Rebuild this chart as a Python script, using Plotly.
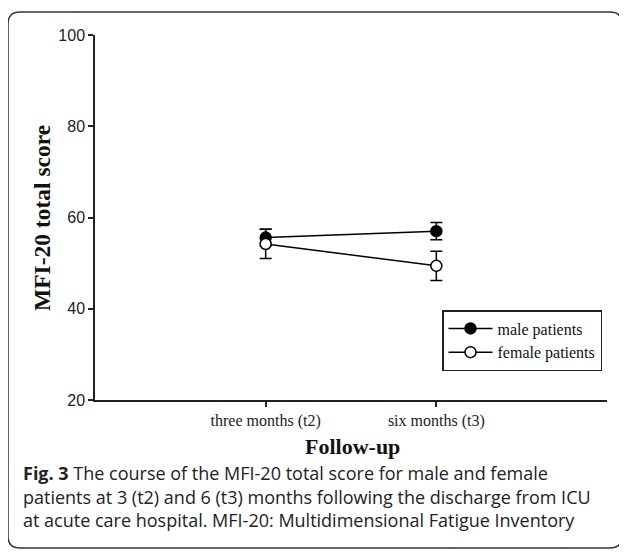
import plotly.graph_objects as go

categories = ["three months (t2)", "six months (t3)"]
cat_pos = [1, 2]
male_mean = [55.6, 57.0]
male_err = [1.8, 1.9]
female_mean = [54.2, 49.4]
female_err = [3.2, 3.2]
y_ticks = [20, 40, 60, 80, 100]
caption_lines = [
    "<b>Fig. 3</b> The course of the MFI-20 total score for male and female",
    "patients at 3 (t2) and 6 (t3) months following the discharge from ICU",
    "at acute care hospital. MFI-20: Multidimensional Fatigue Inventory",
]

# page has an 8px body margin, so the figure is drawn 8px smaller
OFF = 8
W, H = 627 - OFF, 552 - OFF
L, T = 95 - OFF, 35 - OFF
R, B = 20, 152
pw, ph = W - L - R, H - T - B

def px2x(p):
    return (p - OFF - L) / pw

def py2y(p):
    return (H - B - (p - OFF)) / ph

fig = go.Figure()
fig.add_trace(go.Scatter(
    x=cat_pos, y=male_mean, name="male patients", mode="lines+markers",
    line=dict(color="black", width=1.5),
    marker=dict(color="black", size=11, line=dict(color="black", width=1.5)),
    error_y=dict(type="data", array=male_err, color="black", thickness=1.5, width=6),
))
fig.add_trace(go.Scatter(
    x=cat_pos, y=female_mean, name="female patients", mode="lines+markers",
    line=dict(color="black", width=1.5),
    marker=dict(color="white", size=11, line=dict(color="black", width=1.5)),
    error_y=dict(type="data", array=female_err, color="black", thickness=1.5, width=6),
))

serif = "Liberation Serif"
fig.update_xaxes(range=[0, 3], tickvals=cat_pos, ticktext=categories,
                 showline=True, linecolor="#222", linewidth=1.5,
                 ticks="outside", ticklen=5, tickwidth=1.5, tickcolor="#222",
                 showgrid=False, zeroline=False,
                 tickfont=dict(family=serif, size=16, color="#222"))
fig.update_yaxes(range=[20, 100], tickvals=y_ticks,
                 showline=True, linecolor="#222", linewidth=1.5,
                 ticks="outside", ticklen=5, tickwidth=1.5, tickcolor="#222",
                 showgrid=False, zeroline=False,
                 tickfont=dict(family="Liberation Sans", size=16, color="#222"))

annotations = [
    dict(text="<b>MFI-20 total score</b>", x=px2x(42), y=py2y(218), xref="paper", yref="paper",
         textangle=-90, showarrow=False, xanchor="center", yanchor="middle",
         font=dict(family=serif, size=23.5, color="#111")),
    dict(text="<b>Follow-up</b>", x=px2x(352), y=py2y(446), xref="paper", yref="paper",
         showarrow=False, xanchor="center", yanchor="middle",
         font=dict(family=serif, size=22, color="#111")),
]
for i, line in enumerate(caption_lines):
    annotations.append(dict(text=line, x=px2x(21), y=py2y(473 + 23.5 * i),
                            xref="paper", yref="paper", showarrow=False,
                            xanchor="left", yanchor="middle",
                            font=dict(family="Open Sans", size=18, color="#222")))

# rounded border
x0, x1 = px2x(8), px2x(622)
y0, y1 = py2y(548), py2y(12)
rx, ry = 12 / pw, 12 / ph
path = (f"M {x0+rx},{y1} L {x1-rx},{y1} Q {x1},{y1} {x1},{y1-ry} "
        f"L {x1},{y0+ry} Q {x1},{y0} {x1-rx},{y0} L {x0+rx},{y0} "
        f"Q {x0},{y0} {x0},{y0+ry} L {x0},{y1-ry} Q {x0},{y1} {x0+rx},{y1} Z")

fig.update_layout(
    width=W, height=H,
    margin=dict(l=L, r=R, t=T, b=B),
    paper_bgcolor="white", plot_bgcolor="white",
    showlegend=True,
    legend=dict(x=px2x(442), y=py2y(310), xanchor="left", yanchor="top",
                bordercolor="#222", borderwidth=1.5, bgcolor="white",
                font=dict(family=serif, size=16, color="#111"),
                itemwidth=44, tracegroupgap=0),
    annotations=annotations,
    shapes=[dict(type="path", path=path, xref="paper", yref="paper",
                 line=dict(color="#333", width=1.5), layer="below")],
)

fig.write_html("out.html")
